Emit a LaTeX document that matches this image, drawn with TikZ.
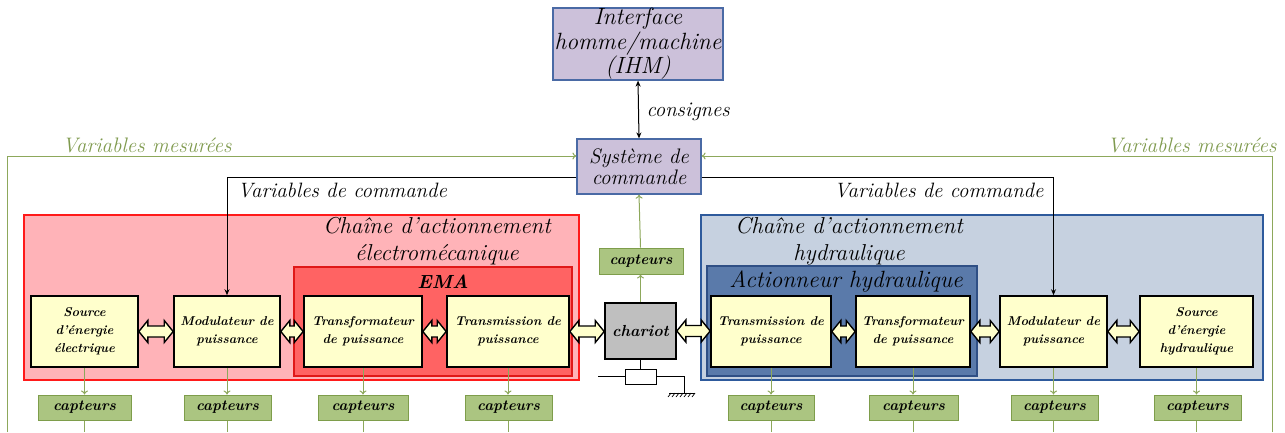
\documentclass[tikz,border=0pt]{standalone}
\usepackage{tikz}
\usetikzlibrary{arrows.meta,calc}
\definecolor{lav}{HTML}{CCC1DA}
\definecolor{lavb}{HTML}{4A6AA5}
\definecolor{pinkf}{HTML}{FFB3B8}
\definecolor{redb}{HTML}{FF1A1A}
\definecolor{emaf}{HTML}{FF6363}
\definecolor{emab}{HTML}{E01818}
\definecolor{bluef}{HTML}{C6D1E0}
\definecolor{blueb}{HTML}{2E5A9C}
\definecolor{actf}{HTML}{5A7AAA}
\definecolor{actb}{HTML}{2F4F85}
\definecolor{cream}{HTML}{FFFFCC}
\definecolor{capf}{HTML}{ABC581}
\definecolor{capb}{HTML}{7E9D4B}
\definecolor{gline}{HTML}{8DA85B}
\definecolor{gtext}{HTML}{7F9A4E}
\definecolor{grayf}{HTML}{BFBFBF}
\tikzset{
  lblfont/.style={font=\fontsize{20.8}{21}\selectfont\itshape},
  purplebox/.style={draw=lavb, line width=1.2pt, fill=lav, align=center, inner sep=0pt},
  container/.style={line width=1.2pt, inner sep=0pt},
  block/.style={draw=black, line width=1.6pt, fill=cream, align=center, inner sep=0pt,
     font=\fontsize{12.8}{18}\selectfont\bfseries\itshape},
  capbox/.style={draw=capb, line width=1pt, fill=capf, inner sep=0pt,
     font=\fontsize{15}{17}\selectfont\bfseries\itshape},
  dblstyle/.style={draw=black, line width=1.4pt, fill=cream, line join=miter},
  garrow/.style={draw=gline, line width=1pt, -{To[length=4pt,width=7pt]}},
  gpath/.style={draw=gline, line width=1pt},
  barrow/.style={draw=black, line width=1pt, -{Stealth[length=6pt,width=5pt]}},
}
% fat double arrow between two nodes: head length 9, half head 11, half shaft 5.5
\newcommand\dblbetween[2]{%
  \path[dblstyle] let \p1=(#1.east), \p2=(#2.west) in
    (\x1,\y1) -- (\x1+9pt,\y1+11pt) -- (\x1+9pt,\y1+5.5pt) -- (\x2-9pt,\y1+5.5pt)
    -- (\x2-9pt,\y1+11pt) -- (\x2,\y1) -- (\x2-9pt,\y1-11pt) -- (\x2-9pt,\y1-5.5pt)
    -- (\x1+9pt,\y1-5.5pt) -- (\x1+9pt,\y1-11pt) -- cycle;}
\begin{document}
\begin{tikzpicture}[x=1pt,y=-1pt]
\useasboundingbox (0,0) rectangle (1285,432);
\coordinate (bot) at (0,432);

% containers
\node[container, draw=redb, fill=pinkf, minimum width=555, minimum height=165] (chel) at (301.5,297.5) {};
\node[container, draw=emab, fill=emaf, minimum width=278, minimum height=109] (ema) at (433,321.5) {};
\node[container, draw=blueb, fill=bluef, minimum width=562, minimum height=165] (chhy) at (982,297.5) {};
\node[container, draw=actb, fill=actf, minimum width=270, minimum height=110] (act) at (842,321) {};

\node[font=\fontsize{23}{27}\selectfont\itshape, align=center] (tchel) at (437,241) {Chaîne d'actionnement\\électromécanique};
\node[font=\fontsize{19}{20}\selectfont\bfseries\itshape] (tema) at (443,282) {EMA};
\node[font=\fontsize{23}{27}\selectfont\itshape, align=center] (tchhy) at (849,241) {Chaîne d'actionnement\\hydraulique};
\node[font=\fontsize{23.5}{24}\selectfont\itshape] (tact) at (846,281) {Actionneur hydraulique};

% top
\node[purplebox, font=\fontsize{23.5}{24.5}\selectfont\itshape, minimum width=170, minimum height=72] (ihm) at (638,44) {Interface\\homme/machine\\(IHM)};
\node[purplebox, font=\fontsize{21}{20.5}\selectfont\itshape, minimum width=124, minimum height=55] (sys) at (639,166.5) {Système de\\commande};
\draw[black, line width=1pt, {Stealth[length=6pt,width=5pt]}-{Stealth[length=6pt,width=5pt]}] (ihm.south) -- (sys.north);
\node[lblfont, anchor=west] (cons) at (643,112) {consignes};

% blocks left
\node[block, minimum width=107, minimum height=71] (src1) at (84.5,331.5) {Source\\d'énergie\\électrique};
\node[block, minimum width=106, minimum height=71] (mod1) at (227,331.5) {Modulateur de\\puissance};
\node[block, minimum width=118, minimum height=71] (trf1) at (363,331.5) {Transformateur\\de puissance};
\node[block, minimum width=122, minimum height=71] (trm1) at (508,331.5) {Transmission de\\puissance};
% chariot
\node[draw=black, line width=1.6pt, fill=grayf, inner sep=0pt, minimum width=71, minimum height=56,
  font=\fontsize{16}{17}\selectfont\bfseries\itshape] (char) at (640.5,331) {chariot};
% blocks right
\node[block, minimum width=120, minimum height=71] (trm2) at (771,331.5) {Transmission de\\puissance};
\node[block, minimum width=114, minimum height=71] (trf2) at (913,331.5) {Transformateur\\de puissance};
\node[block, minimum width=107, minimum height=71] (mod2) at (1053.5,331.5) {Modulateur de\\puissance};
\node[block, minimum width=113, minimum height=71] (src2) at (1196.5,331.5) {Source\\d'énergie\\hydraulique};

% double arrows
\dblbetween{src1}{mod1}
\dblbetween{mod1}{trf1}
\dblbetween{trf1}{trm1}
\dblbetween{trm1}{char}
\dblbetween{char}{trm2}
\dblbetween{trm2}{trf2}
\dblbetween{trf2}{mod2}
\dblbetween{mod2}{src2}

% capteurs
\node[capbox, minimum width=93, minimum height=25] (c1) at (84.5,407.5) {capteurs};
\node[capbox, minimum width=87, minimum height=25] (c2) at (227.5,407.5) {capteurs};
\node[capbox, minimum width=90, minimum height=25] (c3) at (363,407.5) {capteurs};
\node[capbox, minimum width=87, minimum height=25] (c4) at (508.5,407.5) {capteurs};
\node[capbox, minimum width=86, minimum height=25] (c5) at (771,407.5) {capteurs};
\node[capbox, minimum width=89, minimum height=25] (c6) at (913.5,407.5) {capteurs};
\node[capbox, minimum width=87, minimum height=25] (c7) at (1054.5,407.5) {capteurs};
\node[capbox, minimum width=87, minimum height=25] (c8) at (1197.5,407.5) {capteurs};
\node[capbox, minimum width=84, minimum height=26] (ct) at (641,261) {capteurs};

\foreach \b/\c in {src1/c1,mod1/c2,trf1/c3,trm1/c4,trm2/c5,trf2/c6,mod2/c7,src2/c8}{
  \draw[garrow] (\b.south) -- (\b.south |- \c.north);
  \draw[gpath] (\b.south |- \c.south) -- (\b.south |- bot);
}
\draw[garrow] (char.north) -- (char.north |- ct.south);
\draw[garrow] (char.north |- ct.north) -- (sys.south);

% measured variables
\coordinate (gl) at (7,432);
\coordinate (gr) at (1272,432);
\draw[gpath, -{To[length=4pt,width=7pt]}] (gl) -- (7,156) -- (sys.west |- 0,156);
\draw[gpath, -{To[length=4pt,width=7pt]}] (gr) -- (1272,156) -- (sys.east |- 0,156);
\node[font=\fontsize{21}{21}\selectfont\itshape, text=gtext] (vml) at (147,145) {Variables mesurées};
\node[font=\fontsize{21}{21}\selectfont\itshape, text=gtext] (vmr) at (1192,145) {Variables mesurées};

% command variables
\draw[barrow] (sys.west |- 0,177) -- (mod1.north |- 0,177) -- (mod1.north);
\draw[barrow] (sys.east |- 0,177) -- (mod2.north |- 0,177) -- (mod2.north);
\node[lblfont, anchor=west] (vcl) at (234,190) {Variables de commande};
\node[lblfont, anchor=east] (vcr) at (1047,190) {Variables de commande};

% damper under chariot
\node[draw=black, line width=1pt, fill=white, inner sep=0pt, minimum width=31, minimum height=15] (damp) at (640.5,376.5) {};
\coordinate (dl) at (598,376.5);
\coordinate (dr) at (684,376.5);
\coordinate (dg) at (684,393);
\draw[black, line width=1pt] (char.south) -- (damp.north);
\draw[black, line width=1pt] (dl) -- (damp.west);
\draw[black, line width=1pt] (damp.east) -- (dr) -- (dg);
\draw[black, line width=1pt] (669,393) -- (695,393);
\foreach \k in {0,...,6}{
  \draw[black, line width=0.7pt] (671+\k*4,393) -- (668+\k*4,397);
}
\end{tikzpicture}
\end{document}
